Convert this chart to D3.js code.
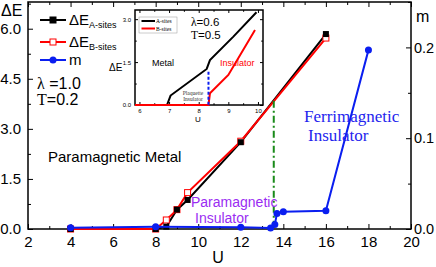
<!DOCTYPE html>
<html>
<head>
<meta charset="utf-8">
<script src="https://cdn.jsdelivr.net/npm/d3@7"></script>
<style>
  body { margin: 0; background: #fff; }
  svg { display: block; font-family: Arial, "Liberation Sans", sans-serif; }
</style>
</head>
<body>
<div id="chart"></div>
<script>
// main panel data
const uA = [4, 8, 8.5, 9, 9.5, 12, 16];
const eA = [0, 0, 0.07, 0.58, 0.87, 2.6, 5.84];
const uB = [4, 8, 8.5, 9, 9.5, 12, 16];
const eB = [0, 0, 0.27, 0.58, 1.09, 2.63, 5.72];
const uM = [4, 8, 12, 13.4, 13.6, 13.7, 14, 16, 18];
const mVal = [0.0015, 0.0025, 0.002, 0.001, 0.005, 0.017, 0.019, 0.02, 0.197];
const uCrit = 13.55, eCrit = 3.84;

const xTicks = [2, 4, 6, 8, 10, 12, 14, 16, 18, 20];
const yTicks = [0, 1.5, 3.0, 4.5, 6.0];
const mTicks = [0, 0.1, 0.2];

// inset data
const inUA = [5.85, 6.93, 7.05, 8.27, 8.38, 9.17, 9.95];
const inEA = [0, 0, 0.33, 1.26, 1.57, 2.39, 3.24];
const inUB = [5.85, 8.33, 8.38, 9.0, 9.9];
const inEB = [0, 0, 0.41, 1.05, 2.62];
const inUCrit = 8.33, inECrit = 1.16;
const inXTicks = [6, 7, 8, 9, 10];
const inYTicks = [0, 1.5, 3.0];

const W = 436, H = 267;
const m = {left: 28, right: 411, top: 2, bottom: 229};

const svg = d3.select("#chart").append("svg")
    .attr("width", W)
    .attr("height", H);

const x = d3.scaleLinear().domain([2, 20]).range([m.left, m.right]);
const y = d3.scaleLinear().domain([0, 6.8]).range([m.bottom, m.top]);
const y2 = d3.scaleLinear().domain([0, 0.25]).range([m.bottom, m.top]);

// axes with inward ticks
function ticksInward(g, scale, orient, major, minor, fmt, fs, len, pad) {
    let ax = orient(scale).tickValues(major).tickSizeInner(-len).tickSizeOuter(0)
        .tickPadding(pad).tickFormat(fmt);
    g.call(ax);
    g.selectAll(".domain").remove();
    g.selectAll("text").attr("font-size", fs).attr("font-family", "Arial, 'Liberation Sans', sans-serif").attr("fill", "#000");
    g.selectAll("line").attr("stroke", "#000");
    let axMin = orient(scale).tickValues(minor).tickSizeInner(-len * 0.6).tickSizeOuter(0).tickFormat("");
    let gm = g.append("g").call(axMin);
    gm.selectAll(".domain").remove();
    gm.selectAll("line").attr("stroke", "#000");
}

const minorX = d3.range(3, 20, 2);
const minorY = [0.75, 2.25, 3.75, 5.25, 6.75];
const minorM = [0.05, 0.15, 0.25];

ticksInward(svg.append("g").attr("transform", `translate(0,${m.bottom})`), x, d3.axisBottom, xTicks, minorX, d3.format("d"), 15, 5, 7);
ticksInward(svg.append("g").attr("transform", `translate(0,${m.top})`), x, d3.axisTop, xTicks, minorX, () => "", 15, 5, 7);
ticksInward(svg.append("g").attr("transform", `translate(${m.left},0)`), y, d3.axisLeft, yTicks, minorY, d3.format(".1f"), 15, 5, 7);
ticksInward(svg.append("g").attr("transform", `translate(${m.right},0)`), y2, d3.axisRight, mTicks, minorM, d3.format(".1f"), 14.5, 5, 3);

// frame
svg.append("rect")
    .attr("x", m.left).attr("y", m.top)
    .attr("width", m.right - m.left).attr("height", m.bottom - m.top)
    .attr("fill", "none").attr("stroke", "#000").attr("stroke-width", 1.5);

// axis titles
svg.append("text").attr("x", 1).attr("y", 16).attr("font-size", 16).text("ΔE");
svg.append("text").attr("x", 416).attr("y", 22).attr("font-size", 16).text("m");
svg.append("text").attr("x", 218).attr("y", 263).attr("font-size", 16).attr("text-anchor", "middle").text("U");

// series
const lineA = d3.line().x((d, i) => x(uA[i])).y(d => y(d));
const lineB = d3.line().x((d, i) => x(uB[i])).y(d => y(d));
const lineM = d3.line().x((d, i) => x(uM[i])).y(d => y2(d));

svg.append("path").datum(eA).attr("d", lineA)
    .attr("fill", "none").attr("stroke", "#000").attr("stroke-width", 2);
svg.append("path").datum(eB).attr("d", lineB)
    .attr("fill", "none").attr("stroke", "#f00").attr("stroke-width", 2);

svg.selectAll(".sqB").data(eB).enter().append("rect")
    .attr("x", (d, i) => x(uB[i]) - 3).attr("y", d => y(d) - 3)
    .attr("width", 6).attr("height", 6)
    .attr("fill", "#fff").attr("stroke", "#f00").attr("stroke-width", 1);
svg.selectAll(".sqA").data(eA).enter().append("rect")
    .attr("x", (d, i) => x(uA[i]) - 3).attr("y", d => y(d) - 3)
    .attr("width", 6).attr("height", 6)
    .attr("fill", "#000");

// critical U (dash-dot)
svg.append("line")
    .attr("x1", x(uCrit)).attr("x2", x(uCrit))
    .attr("y1", y(eCrit)).attr("y2", y(0))
    .attr("stroke", "#1a8a1a").attr("stroke-width", 2)
    .attr("stroke-dasharray", "7,3,2,3");

svg.append("path").datum(mVal).attr("d", lineM)
    .attr("fill", "none").attr("stroke", "#0a1ef0").attr("stroke-width", 2);
svg.selectAll(".dotM").data(mVal).enter().append("circle")
    .attr("cx", (d, i) => x(uM[i])).attr("cy", d => y2(d))
    .attr("r", 3.5).attr("fill", "#0a1ef0");

// legend
const leg = svg.append("g");
const legItems = [
    {name: "ΔE", sub: "A-sites", color: "#000", y: 20, mark: "sqA"},
    {name: "ΔE", sub: "B-sites", color: "#f00", y: 42, mark: "sqB"},
    {name: "m", sub: "", color: "#0a1ef0", y: 60, mark: "dot"}
];
legItems.forEach(it => {
    leg.append("line").attr("x1", 40).attr("x2", 66).attr("y1", it.y).attr("y2", it.y)
        .attr("stroke", it.color).attr("stroke-width", 2);
    if (it.mark === "dot") {
        leg.append("circle").attr("cx", 53).attr("cy", it.y).attr("r", 3.5).attr("fill", it.color);
    } else {
        leg.append("rect").attr("x", 50).attr("y", it.y - 3).attr("width", 6).attr("height", 6)
            .attr("fill", it.mark === "sqA" ? "#000" : "#fff").attr("stroke", it.color);
    }
    let t = leg.append("text").attr("x", 69).attr("y", it.y + 5).attr("font-size", 15).text(it.name);
    if (it.sub) {
        t.append("tspan").attr("font-size", 9).attr("dy", 3).text(it.sub);
    }
});

svg.append("text").attr("x", 37).attr("y", 89).attr("font-size", 16)
    .html('<tspan font-family="Liberation Serif, Times New Roman, serif">λ</tspan> =1.0');
svg.append("text").attr("x", 37).attr("y", 105).attr("font-size", 16)
    .html('<tspan font-family="Liberation Serif, Times New Roman, serif">T</tspan>=0.2');

// phase labels
svg.append("text").attr("x", 48).attr("y", 162).attr("font-size", 15).text("Paramagnetic Metal");
svg.append("text").attr("x", 191).attr("y", 207).attr("font-size", 14).attr("fill", "#9a2cf2").text("Paramagnetic");
svg.append("text").attr("x", 195).attr("y", 223).attr("font-size", 14).attr("fill", "#9a2cf2").text("Insulator");
svg.append("text").attr("x", 304).attr("y", 122).attr("font-size", 17)
    .attr("font-family", "Liberation Serif, Times New Roman, serif").attr("fill", "#2424ee").text("Ferrimagnetic");
svg.append("text").attr("x", 308).attr("y", 141).attr("font-size", 17)
    .attr("font-family", "Liberation Serif, Times New Roman, serif").attr("fill", "#2424ee").text("Insulator");

// ---------- inset ----------
const im = {left: 135, right: 263, top: 10, bottom: 105};
const ix = d3.scaleLinear().domain([5.85, 10.17]).range([im.left, im.right]);
const iy = d3.scaleLinear().domain([0, 3.32]).range([im.bottom, im.top]);
const ins = svg.append("g");

ins.append("rect").attr("x", im.left).attr("y", im.top)
    .attr("width", im.right - im.left).attr("height", im.bottom - im.top)
    .attr("fill", "#fff");

ticksInward(ins.append("g").attr("transform", `translate(0,${im.bottom})`), ix, d3.axisBottom, inXTicks, [6.5, 7.5, 8.5, 9.5], d3.format("d"), 6, 3, 4);
ticksInward(ins.append("g").attr("transform", `translate(0,${im.top})`), ix, d3.axisTop, inXTicks, [6.5, 7.5, 8.5, 9.5], () => "", 6, 3, 4);
ticksInward(ins.append("g").attr("transform", `translate(${im.left},0)`), iy, d3.axisLeft, inYTicks, [0.75, 2.25], d3.format(".1f"), 6, 3, 4);
ticksInward(ins.append("g").attr("transform", `translate(${im.right},0)`), iy, d3.axisRight, inYTicks, [0.75, 2.25], () => "", 6, 3, 4);

ins.append("rect").attr("x", im.left).attr("y", im.top)
    .attr("width", im.right - im.left).attr("height", im.bottom - im.top)
    .attr("fill", "none").attr("stroke", "#000").attr("stroke-width", 1.5);

const inLineA = d3.line().x((d, i) => ix(inUA[i])).y(d => iy(d));
const inLineB = d3.line().x((d, i) => ix(inUB[i])).y(d => iy(d));
ins.append("path").datum(inEA).attr("d", inLineA)
    .attr("fill", "none").attr("stroke", "#000").attr("stroke-width", 2);
ins.append("path").datum(inEB).attr("d", inLineB)
    .attr("fill", "none").attr("stroke", "#f00").attr("stroke-width", 2);
ins.append("line")
    .attr("x1", ix(inUCrit)).attr("x2", ix(inUCrit))
    .attr("y1", iy(inECrit)).attr("y2", iy(0))
    .attr("stroke", "#0a1ef0").attr("stroke-width", 2).attr("stroke-dasharray", "3,2");

// inset legend
ins.append("rect").attr("x", 139).attr("y", 17).attr("width", 38).attr("height", 16)
    .attr("fill", "#fff").attr("stroke", "#999").attr("stroke-width", 0.5);
[["A-sites", "#000", 21], ["B-sites", "#f00", 28.5]].forEach(d => {
    ins.append("line").attr("x1", 141.5).attr("x2", 155).attr("y1", d[2]).attr("y2", d[2])
        .attr("stroke", d[1]).attr("stroke-width", 2);
    ins.append("text").attr("x", 156).attr("y", d[2] + 2).attr("font-size", 5.5)
        .attr("font-family", "Liberation Serif, Times New Roman, serif").text(d[0]);
});

ins.append("text").attr("x", 109).attr("y", 71).attr("font-size", 10).text("ΔE");
ins.append("text").attr("x", 198).attr("y", 122).attr("font-size", 8).attr("text-anchor", "middle").text("U");
ins.append("text").attr("x", 191).attr("y", 26).attr("font-size", 11.5)
    .html('<tspan font-family="Liberation Serif, Times New Roman, serif">λ</tspan>=0.6');
ins.append("text").attr("x", 191).attr("y", 39).attr("font-size", 11.5)
    .html('<tspan font-family="Liberation Serif, Times New Roman, serif">T</tspan>=0.5');
ins.append("text").attr("x", 152).attr("y", 66).attr("font-size", 9).text("Metal");
ins.append("text").attr("x", 220).attr("y", 66).attr("font-size", 9).attr("fill", "#f00").text("Insulator");
ins.append("text").attr("x", 193).attr("y", 95).attr("font-size", 5.5).attr("text-anchor", "middle")
    .attr("font-family", "Liberation Serif, Times New Roman, serif").attr("fill", "#333").text("Plaquette");
ins.append("text").attr("x", 193).attr("y", 101).attr("font-size", 5.5).attr("text-anchor", "middle")
    .attr("font-family", "Liberation Serif, Times New Roman, serif").attr("fill", "#333").text("Insulator");
</script>
</body>
</html>
